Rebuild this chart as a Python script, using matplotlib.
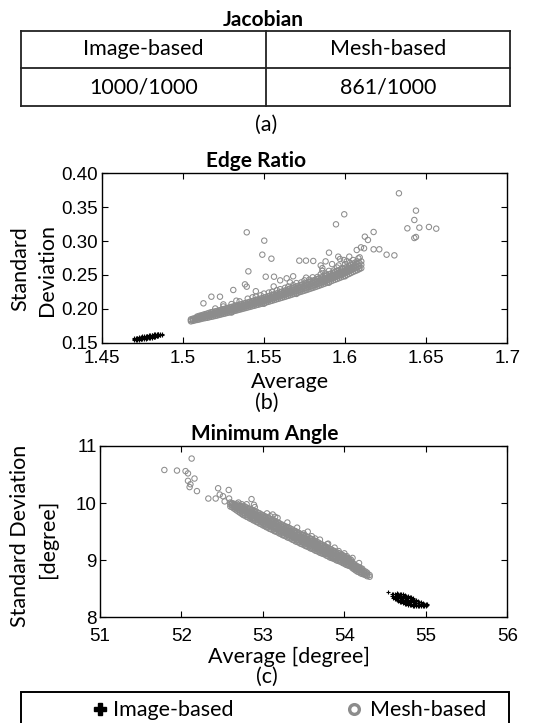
import matplotlib
matplotlib.use("Agg")
import matplotlib.pyplot as plt
from matplotlib.lines import Line2D
from matplotlib.patches import Rectangle

# ---------------- data ----------------
table_title = "Jacobian"
table_header = ["Image-based", "Mesh-based"]
table_values = ["1000/1000", "861/1000"]

# (b) Edge Ratio: image-based cluster, columns of (average, [std values])
img_b_cols = [
    (1.4700, (0.1545, 0.1555, 0.1565)),
    (1.4710, (0.1540, 0.1550, 0.1560, 0.1570)),
    (1.4720, (0.1542, 0.1553, 0.1564, 0.1574)),
    (1.4730, (0.1545, 0.1556, 0.1567, 0.1578)),
    (1.4740, (0.1548, 0.1559, 0.1570, 0.1581)),
    (1.4750, (0.1551, 0.1562, 0.1573, 0.1584, 0.1592)),
    (1.4760, (0.1554, 0.1565, 0.1576, 0.1587, 0.1596)),
    (1.4770, (0.1558, 0.1569, 0.1580, 0.1591, 0.1600)),
    (1.4780, (0.1562, 0.1573, 0.1584, 0.1595, 0.1604)),
    (1.4790, (0.1566, 0.1577, 0.1588, 0.1599, 0.1608)),
    (1.4800, (0.1570, 0.1581, 0.1592, 0.1603, 0.1612)),
    (1.4810, (0.1575, 0.1586, 0.1597, 0.1608, 0.1617)),
    (1.4820, (0.1580, 0.1591, 0.1602, 0.1613, 0.1622)),
    (1.4830, (0.1586, 0.1597, 0.1608, 0.1619, 0.1628)),
    (1.4840, (0.1593, 0.1604, 0.1615, 0.1626)),
    (1.4850, (0.1600, 0.1611, 0.1622, 0.1632)),
    (1.4860, (0.1608, 0.1619, 0.1630)),
    (1.4870, (0.1618, 0.1628)),
]

# (b) Edge Ratio: mesh-based dense band
mesh_b_cols = [
    (1.5050, (0.1815, 0.1832, 0.1845)),
    (1.50625, (0.1822, 0.1840, 0.1855)),
    (1.5075, (0.1830, 0.1848, 0.1862)),
    (1.50875, (0.1836, 0.1854, 0.1870, 0.1885)),
    (1.5100, (0.1842, 0.1860, 0.1878, 0.1895)),
    (1.51125, (0.1850, 0.1868, 0.1886, 0.1903)),
    (1.5125, (0.1858, 0.1876, 0.1894, 0.1912)),
    (1.51375, (0.1863, 0.1882, 0.1901, 0.1921)),
    (1.5150, (0.1868, 0.1888, 0.1908, 0.1930)),
    (1.51625, (0.1875, 0.1896, 0.1916, 0.1940)),
    (1.5175, (0.1882, 0.1904, 0.1925, 0.1950)),
    (1.51875, (0.1888, 0.1911, 0.1933, 0.1956)),
    (1.5200, (0.1895, 0.1918, 0.1940, 0.1962, 0.2005)),
    (1.52125, (0.1902, 0.1925, 0.1948, 0.1970)),
    (1.5225, (0.1910, 0.1932, 0.1956, 0.1978)),
    (1.52375, (0.1918, 0.1940, 0.1964, 0.1986)),
    (1.5250, (0.1925, 0.1948, 0.1972, 0.1995, 0.2035)),
    (1.52625, (0.1932, 0.1956, 0.1980, 0.2004)),
    (1.5275, (0.1940, 0.1964, 0.1988, 0.2012)),
    (1.52875, (0.1948, 0.1972, 0.1996, 0.2020)),
    (1.5300, (0.1955, 0.1980, 0.2004, 0.2028, 0.2070)),
    (1.53125, (0.1964, 0.1988, 0.2012, 0.2036)),
    (1.5325, (0.1972, 0.1996, 0.2020, 0.2045)),
    (1.53375, (0.1980, 0.2004, 0.2028, 0.2054)),
    (1.5350, (0.1988, 0.2012, 0.2036, 0.2062, 0.2110)),
    (1.53625, (0.1996, 0.2020, 0.2044, 0.2070)),
    (1.5375, (0.2004, 0.2028, 0.2052, 0.2078)),
    (1.53875, (0.2012, 0.2036, 0.2060, 0.2086)),
    (1.5400, (0.2020, 0.2044, 0.2068, 0.2094, 0.2150)),
    (1.54125, (0.2028, 0.2052, 0.2077, 0.2103)),
    (1.5425, (0.2036, 0.2060, 0.2086, 0.2112)),
    (1.54375, (0.2044, 0.2069, 0.2095, 0.2121)),
    (1.5450, (0.2052, 0.2078, 0.2104, 0.2130, 0.2180)),
    (1.54625, (0.2060, 0.2086, 0.2112, 0.2139)),
    (1.5475, (0.2068, 0.2094, 0.2120, 0.2148)),
    (1.54875, (0.2076, 0.2102, 0.2129, 0.2157)),
    (1.5500, (0.2084, 0.2110, 0.2138, 0.2166, 0.2225)),
    (1.55125, (0.2093, 0.2119, 0.2147, 0.2175)),
    (1.5525, (0.2102, 0.2128, 0.2156, 0.2184)),
    (1.55375, (0.2111, 0.2138, 0.2166, 0.2194)),
    (1.5550, (0.2120, 0.2148, 0.2176, 0.2204, 0.2250)),
    (1.55625, (0.2129, 0.2157, 0.2186, 0.2214)),
    (1.5575, (0.2138, 0.2166, 0.2196, 0.2224)),
    (1.55875, (0.2147, 0.2176, 0.2206, 0.2235)),
    (1.5600, (0.2156, 0.2186, 0.2216, 0.2246, 0.2290)),
    (1.56125, (0.2165, 0.2195, 0.2226, 0.2256)),
    (1.5625, (0.2174, 0.2204, 0.2236, 0.2266)),
    (1.56375, (0.2183, 0.2214, 0.2246, 0.2277)),
    (1.5650, (0.2192, 0.2224, 0.2256, 0.2288, 0.2330)),
    (1.56625, (0.2202, 0.2234, 0.2266, 0.2298)),
    (1.5675, (0.2212, 0.2244, 0.2276, 0.2308)),
    (1.56875, (0.2221, 0.2253, 0.2286, 0.2319)),
    (1.5700, (0.2230, 0.2262, 0.2296, 0.2330, 0.2380)),
    (1.57125, (0.2240, 0.2272, 0.2306, 0.2340)),
    (1.5725, (0.2250, 0.2282, 0.2316, 0.2350)),
    (1.57375, (0.2259, 0.2292, 0.2326, 0.2361)),
    (1.5750, (0.2268, 0.2302, 0.2336, 0.2372, 0.2420)),
    (1.57625, (0.2278, 0.2312, 0.2346, 0.2382)),
    (1.5775, (0.2288, 0.2322, 0.2356, 0.2392)),
    (1.57875, (0.2298, 0.2332, 0.2367, 0.2403)),
    (1.5800, (0.2308, 0.2342, 0.2378, 0.2414, 0.2465)),
    (1.58125, (0.2318, 0.2353, 0.2389, 0.2425)),
    (1.5825, (0.2328, 0.2364, 0.2400, 0.2436)),
    (1.58375, (0.2339, 0.2375, 0.2411, 0.2448)),
    (1.5850, (0.2350, 0.2386, 0.2422, 0.2460, 0.2510)),
    (1.58625, (0.2361, 0.2397, 0.2434, 0.2472)),
    (1.5875, (0.2372, 0.2408, 0.2446, 0.2484)),
    (1.58875, (0.2383, 0.2420, 0.2458, 0.2496)),
    (1.5900, (0.2394, 0.2432, 0.2470, 0.2508, 0.2560)),
    (1.59125, (0.2406, 0.2444, 0.2482, 0.2520)),
    (1.5925, (0.2418, 0.2456, 0.2494, 0.2532)),
    (1.59375, (0.2429, 0.2467, 0.2506, 0.2544)),
    (1.5950, (0.2440, 0.2478, 0.2518, 0.2556, 0.2610)),
    (1.59625, (0.2452, 0.2490, 0.2530, 0.2568)),
    (1.5975, (0.2464, 0.2502, 0.2542, 0.2580)),
    (1.59875, (0.2476, 0.2515, 0.2554, 0.2593)),
    (1.6000, (0.2488, 0.2528, 0.2566, 0.2606, 0.2660)),
    (1.60125, (0.2502, 0.2542, 0.2581, 0.2620)),
    (1.6025, (0.2515, 0.2555, 0.2595, 0.2635)),
    (1.60375, (0.2530, 0.2570, 0.2610, 0.2650)),
    (1.6050, (0.2545, 0.2585, 0.2625, 0.2665)),
    (1.60625, (0.2558, 0.2600, 0.2643, 0.2683)),
    (1.6075, (0.2570, 0.2615, 0.2660, 0.2700)),
    (1.60875, (0.2585, 0.2632, 0.2680)),
    (1.6100, (0.2600, 0.2650, 0.2700)),
]

# (b) Edge Ratio: mesh-based scattered points
mesh_b_sparse = [
    (1.6332, 0.3705), (1.5995, 0.3395), (1.5944, 0.3247), (1.5394, 0.3129),
    (1.5502, 0.3006), (1.5490, 0.2799), (1.5546, 0.2740), (1.5404, 0.2553),
    (1.6437, 0.3449), (1.6427, 0.3311), (1.6384, 0.3188), (1.6458, 0.3198),
    (1.6517, 0.3208), (1.6562, 0.3183), (1.6427, 0.3045), (1.6437, 0.3060),
    (1.6304, 0.2789), (1.6256, 0.2799), (1.6176, 0.3134), (1.6122, 0.3065),
    (1.6141, 0.3016), (1.6176, 0.2878), (1.6211, 0.2878), (1.6098, 0.2907),
    (1.6117, 0.2893), (1.6072, 0.2868), (1.5718, 0.2711), (1.5759, 0.2711),
    (1.5804, 0.2706), (1.5901, 0.2829), (1.5958, 0.2770), (1.5969, 0.2735),
    (1.5993, 0.2720), (1.6026, 0.2770), (1.6088, 0.2598), (1.6082, 0.2745),
    (1.5383, 0.2361), (1.5394, 0.2327), (1.5311, 0.2278), (1.5229, 0.2179),
    (1.5176, 0.2179), (1.5127, 0.2081), (1.5511, 0.2474), (1.5562, 0.2474),
    (1.5640, 0.2450), (1.5600, 0.2420), (1.5680, 0.2480), (1.5850, 0.2640),
    (1.5880, 0.2700), (1.5920, 0.2660), (1.5860, 0.2560),
    (1.5250, 0.2065), (1.5330, 0.2120), (1.5430, 0.2170), (1.5480, 0.2200),
    (1.5530, 0.2240), (1.5580, 0.2275), (1.5630, 0.2310), (1.5680, 0.2350),
    (1.5730, 0.2390), (1.5780, 0.2430), (1.5830, 0.2470), (1.5880, 0.2520),
    (1.5930, 0.2565), (1.5980, 0.2600), (1.6030, 0.2680), (1.5450, 0.2260),
    (1.5560, 0.2330), (1.5660, 0.2390), (1.5760, 0.2460), (1.5860, 0.2600),
    (1.5960, 0.2640), (1.6010, 0.2700), (1.6050, 0.2720), (1.6090, 0.2760),
    (1.5300, 0.1945), (1.5500, 0.2075), (1.5700, 0.2220), (1.5900, 0.2385),
    (1.6000, 0.2480),
]

# (c) Minimum Angle: image-based cluster
img_c_cols = [
    (54.53, (8.44,)),
    (54.58, (8.37, 8.40)),
    (54.60, (8.34, 8.37, 8.40)),
    (54.62, (8.32, 8.35, 8.38, 8.41)),
    (54.64, (8.30, 8.33, 8.36, 8.39, 8.42)),
    (54.66, (8.28, 8.31, 8.34, 8.37, 8.40)),
    (54.68, (8.27, 8.30, 8.33, 8.36, 8.39, 8.41)),
    (54.70, (8.26, 8.29, 8.32, 8.35, 8.38, 8.40)),
    (54.72, (8.25, 8.28, 8.31, 8.34, 8.37, 8.40)),
    (54.74, (8.24, 8.27, 8.30, 8.33, 8.36, 8.39)),
    (54.76, (8.23, 8.26, 8.29, 8.32, 8.35, 8.38)),
    (54.78, (8.22, 8.25, 8.28, 8.31, 8.34, 8.37)),
    (54.80, (8.21, 8.24, 8.27, 8.30, 8.33, 8.36)),
    (54.82, (8.21, 8.24, 8.27, 8.30, 8.33, 8.35)),
    (54.84, (8.20, 8.23, 8.26, 8.29, 8.32, 8.34)),
    (54.86, (8.20, 8.23, 8.26, 8.29, 8.31)),
    (54.88, (8.19, 8.22, 8.25, 8.28, 8.30)),
    (54.90, (8.19, 8.22, 8.25, 8.28)),
    (54.92, (8.19, 8.21, 8.24, 8.27)),
    (54.94, (8.19, 8.21, 8.24, 8.26)),
    (54.96, (8.19, 8.21, 8.23, 8.25)),
    (54.98, (8.20, 8.22, 8.24)),
    (55.00, (8.20, 8.22, 8.24)),
    (55.02, (8.21, 8.23)),
]

# (c) Minimum Angle: mesh-based dense band
mesh_c_cols = [
    (52.60, (9.94, 9.98, 10.01)),
    (52.62, (9.93, 9.96, 10.00)),
    (52.64, (9.91, 9.95, 9.99)),
    (52.66, (9.89, 9.93, 9.97)),
    (52.68, (9.87, 9.91, 9.95, 9.99)),
    (52.70, (9.85, 9.89, 9.93, 9.97)),
    (52.72, (9.83, 9.87, 9.91, 9.95)),
    (52.74, (9.81, 9.85, 9.89, 9.93)),
    (52.76, (9.79, 9.83, 9.87, 9.91, 9.95)),
    (52.78, (9.78, 9.82, 9.86, 9.90, 9.94)),
    (52.80, (9.76, 9.80, 9.84, 9.88, 9.92)),
    (52.82, (9.75, 9.79, 9.83, 9.87, 9.91)),
    (52.84, (9.73, 9.77, 9.81, 9.85, 9.90)),
    (52.86, (9.72, 9.76, 9.80, 9.84, 9.88)),
    (52.88, (9.70, 9.74, 9.78, 9.83, 9.87)),
    (52.90, (9.69, 9.73, 9.77, 9.81, 9.86)),
    (52.92, (9.67, 9.72, 9.76, 9.80, 9.85)),
    (52.94, (9.66, 9.70, 9.74, 9.79, 9.83)),
    (52.96, (9.64, 9.69, 9.73, 9.78, 9.82)),
    (52.98, (9.63, 9.67, 9.72, 9.76, 9.80)),
    (53.00, (9.61, 9.66, 9.70, 9.75, 9.79)),
    (53.02, (9.60, 9.64, 9.69, 9.73, 9.77)),
    (53.04, (9.58, 9.63, 9.67, 9.72, 9.76)),
    (53.06, (9.57, 9.61, 9.66, 9.70, 9.74)),
    (53.08, (9.55, 9.60, 9.64, 9.69, 9.73)),
    (53.10, (9.54, 9.59, 9.63, 9.67, 9.72)),
    (53.12, (9.53, 9.58, 9.62, 9.66, 9.71)),
    (53.14, (9.51, 9.56, 9.60, 9.65, 9.69)),
    (53.16, (9.50, 9.55, 9.59, 9.64, 9.68)),
    (53.18, (9.49, 9.53, 9.57, 9.62, 9.66)),
    (53.20, (9.47, 9.52, 9.56, 9.61, 9.65)),
    (53.22, (9.46, 9.50, 9.55, 9.59, 9.63)),
    (53.24, (9.44, 9.49, 9.53, 9.58, 9.62)),
    (53.26, (9.43, 9.48, 9.52, 9.56, 9.60)),
    (53.28, (9.42, 9.46, 9.50, 9.55, 9.59)),
    (53.30, (9.40, 9.45, 9.49, 9.53, 9.58)),
    (53.32, (9.39, 9.44, 9.48, 9.52, 9.57)),
    (53.34, (9.38, 9.42, 9.46, 9.51, 9.55)),
    (53.36, (9.36, 9.41, 9.45, 9.50, 9.54)),
    (53.38, (9.35, 9.39, 9.44, 9.48, 9.52)),
    (53.40, (9.33, 9.38, 9.42, 9.47, 9.51)),
    (53.42, (9.32, 9.36, 9.41, 9.45, 9.49)),
    (53.44, (9.31, 9.35, 9.39, 9.44, 9.48)),
    (53.46, (9.29, 9.34, 9.38, 9.42, 9.46)),
    (53.48, (9.28, 9.32, 9.36, 9.41, 9.45)),
    (53.50, (9.27, 9.31, 9.35, 9.39, 9.44)),
    (53.52, (9.25, 9.30, 9.34, 9.38, 9.43)),
    (53.54, (9.24, 9.28, 9.32, 9.37, 9.41)),
    (53.56, (9.23, 9.27, 9.31, 9.35, 9.40)),
    (53.58, (9.21, 9.26, 9.30, 9.34, 9.38)),
    (53.60, (9.20, 9.24, 9.28, 9.33, 9.37)),
    (53.62, (9.19, 9.23, 9.27, 9.31, 9.35)),
    (53.64, (9.17, 9.21, 9.25, 9.30, 9.34)),
    (53.66, (9.16, 9.20, 9.24, 9.28, 9.32)),
    (53.68, (9.15, 9.19, 9.22, 9.27, 9.31)),
    (53.70, (9.13, 9.17, 9.21, 9.25, 9.29)),
    (53.72, (9.12, 9.16, 9.20, 9.24, 9.28)),
    (53.74, (9.11, 9.15, 9.18, 9.22, 9.26)),
    (53.76, (9.10, 9.13, 9.17, 9.21, 9.25)),
    (53.78, (9.08, 9.12, 9.16, 9.19, 9.23)),
    (53.80, (9.07, 9.11, 9.14, 9.18, 9.22)),
    (53.82, (9.05, 9.09, 9.13, 9.16, 9.20)),
    (53.84, (9.04, 9.08, 9.11, 9.15, 9.19)),
    (53.86, (9.03, 9.06, 9.10, 9.14, 9.17)),
    (53.88, (9.02, 9.05, 9.08, 9.12, 9.16)),
    (53.90, (9.00, 9.04, 9.07, 9.11, 9.14)),
    (53.92, (8.99, 9.03, 9.06, 9.10, 9.13)),
    (53.94, (8.98, 9.01, 9.05, 9.08, 9.12)),
    (53.96, (8.97, 9.00, 9.03, 9.07, 9.10)),
    (53.98, (8.95, 8.99, 9.02, 9.05, 9.09)),
    (54.00, (8.94, 8.97, 9.00, 9.04, 9.07)),
    (54.02, (8.92, 8.96, 8.99, 9.02, 9.05)),
    (54.04, (8.91, 8.94, 8.97, 9.01, 9.04)),
    (54.06, (8.90, 8.93, 8.96, 8.99, 9.02)),
    (54.08, (8.89, 8.92, 8.94, 8.98, 9.01)),
    (54.10, (8.86, 8.89, 8.92, 8.96)),
    (54.12, (8.84, 8.87, 8.90, 8.93)),
    (54.14, (8.82, 8.85, 8.88, 8.91)),
    (54.16, (8.80, 8.83, 8.86, 8.89)),
    (54.18, (8.79, 8.82, 8.85, 8.88)),
    (54.20, (8.77, 8.80, 8.83, 8.86)),
    (54.22, (8.76, 8.79, 8.82, 8.85)),
    (54.24, (8.75, 8.78, 8.81)),
    (54.26, (8.74, 8.77, 8.80)),
    (54.28, (8.72, 8.75, 8.78)),
    (54.31, (8.71, 8.74)),
]

# (c) Minimum Angle: mesh-based scattered points
mesh_c_sparse = [
    (51.79, 10.58), (51.945, 10.57), (52.05, 10.56), (52.08, 10.52),
    (52.125, 10.78), (52.16, 10.43), (52.08, 10.39), (52.11, 10.33),
    (52.10, 10.28), (52.19, 10.21), (52.33, 10.08), (52.42, 10.08),
    (52.45, 10.26), (52.51, 10.12), (52.47, 10.15), (52.58, 10.23),
    (52.585, 10.08), (52.53, 10.03), (52.86, 10.07), (52.89, 9.97),
    (53.09, 9.77), (53.15, 9.76), (53.12, 9.80), (53.50, 9.47),
    (53.64, 9.38), (53.79, 9.28), (53.93, 9.16), (54.03, 9.07),
    (52.62, 9.99), (52.70, 10.01), (52.74, 9.98), (52.80, 9.98),
    (52.90, 9.93), (53.05, 9.82), (53.18, 9.74), (53.30, 9.66),
    (53.42, 9.57), (53.55, 9.50), (53.60, 9.42), (53.70, 9.36),
    (53.80, 9.29), (53.88, 9.22), (54.00, 9.12), (54.10, 9.04),
    (54.18, 8.95),
]

b_xticks = [1.45, 1.5, 1.55, 1.6, 1.65, 1.7]
b_xticklabels = ["1.45", "1.5", "1.55", "1.6", "1.65", "1.7"]
b_yticks = [0.15, 0.20, 0.25, 0.30, 0.35, 0.40]
b_yticklabels = ["0.15", "0.20", "0.25", "0.30", "0.35", "0.40"]
c_xticks = [51, 52, 53, 54, 55, 56]
c_yticks = [8, 9, 10, 11]


def flatten(cols):
    xs, ys = [], []
    for x, yl in cols:
        for y in yl:
            xs.append(x)
            ys.append(y)
    return xs, ys


img_b_avg, img_b_std = flatten(img_b_cols)
mesh_b_avg, mesh_b_std = flatten(mesh_b_cols)
mesh_b_avg += [p[0] for p in mesh_b_sparse]
mesh_b_std += [p[1] for p in mesh_b_sparse]
img_c_avg, img_c_std = flatten(img_c_cols)
mesh_c_avg, mesh_c_std = flatten(mesh_c_cols)
mesh_c_avg += [p[0] for p in mesh_c_sparse]
mesh_c_std += [p[1] for p in mesh_c_sparse]

# ---------------- figure ----------------
W, H = 550, 723
fig = plt.figure(figsize=(5.5, 7.23), dpi=100)
fig.patch.set_facecolor("white")

TXT = ["Lato", "DejaVu Sans"]
TICK = ["Liberation Sans", "DejaVu Sans"]
GRAY = "#8c8c8c"
LBL = 15.5
TCK = 13.5


def fx(px):
    return px / W


def fy(py):
    return 1 - py / H


def ftext(px, py, s, **kw):
    kw.setdefault("family", TXT)
    kw.setdefault("fontsize", LBL)
    kw.setdefault("ha", "center")
    kw.setdefault("va", "center")
    fig.text(fx(px), fy(py), s, **kw)


def fline(x0, y0, x1, y1, lw=1.3, color="#222222"):
    fig.add_artist(Line2D([fx(x0), fx(x1)], [fy(y0), fy(y1)],
                          transform=fig.transFigure, lw=lw, color=color,
                          solid_capstyle="projecting"))


# ---- (a) table ----
ftext(263, 20, table_title, fontweight="bold", fontsize=15)
tl, tm, tr = 21, 266, 510
ty0, ty1, ty2 = 31, 68, 106
for yy in (ty0, ty1, ty2):
    fline(tl, yy, tr, yy)
for xx in (tl, tm, tr):
    fline(xx, ty0, xx, ty2)
ftext((tl + tm) / 2, 49, table_header[0])
ftext((tm + tr) / 2, 49, table_header[1])
ftext((tl + tm) / 2, 87, table_values[0])
ftext((tm + tr) / 2, 87, table_values[1])
ftext(266, 125, "(a)")


def style(ax, xpad):
    ax.tick_params(direction="in", top=True, right=True, length=4,
                   width=0.8, labelsize=TCK, colors="black")
    ax.tick_params(axis="x", pad=xpad)
    ax.tick_params(axis="y", pad=2.5)
    for sp in ax.spines.values():
        sp.set_linewidth(1.0)
        sp.set_color("black")
    for lab in ax.get_xticklabels() + ax.get_yticklabels():
        lab.set_family(TICK)


MS = 15
MLW = 0.75

# ---- (b) Edge Ratio ----
ax_b = fig.add_axes([fx(101.7), fy(342.7), (507.3 - 101.7) / W, (342.7 - 173.3) / H])
ax_b.scatter(mesh_b_avg, mesh_b_std, s=MS, marker="o", facecolors="none",
             edgecolors=GRAY, linewidths=MLW, zorder=2)
ax_b.scatter(img_b_avg, img_b_std, s=10, marker="+", c="black",
             linewidths=0.8, zorder=3)
ax_b.set_xlim(1.45, 1.7)
ax_b.set_ylim(0.15, 0.40)
ax_b.set_xticks(b_xticks, b_xticklabels)
ax_b.set_yticks(b_yticks, b_yticklabels)
style(ax_b, 5.5)
ftext(256, 161, "Edge Ratio", fontweight="bold", fontsize=15)
ftext(20, 269, "Standard", rotation=90)
ftext(47, 270, "Deviation", rotation=90)
ftext(290, 382, "Average")
ftext(267, 403, "(b)")

# ---- (c) Minimum Angle ----
ax_c = fig.add_axes([fx(100), fy(617.3), (507.3 - 100) / W, (617.3 - 446) / H])
ax_c.scatter(mesh_c_avg, mesh_c_std, s=MS, marker="o", facecolors="none",
             edgecolors=GRAY, linewidths=MLW, zorder=2)
ax_c.scatter(img_c_avg, img_c_std, s=10, marker="+", c="black",
             linewidths=0.8, zorder=3)
ax_c.set_xlim(51, 56)
ax_c.set_ylim(8, 11)
ax_c.set_xticks(c_xticks, [str(v) for v in c_xticks])
ax_c.set_yticks(c_yticks, [str(v) for v in c_yticks])
style(ax_c, 7.5)
ftext(265, 434, "Minimum Angle", fontweight="bold", fontsize=15)
ftext(20, 536, "Standard Deviation", rotation=90)
ftext(48, 539, "[degree]", rotation=90)
ftext(289, 657, "Average [degree]")
ftext(267, 677, "(c)")

# ---- legend box ----
fig.add_artist(Rectangle((fx(21), fy(735)), fx(509) - fx(21), fy(692.3) - fy(735),
                         transform=fig.transFigure, fill=False,
                         edgecolor="black", lw=1.4))
fig.add_artist(Line2D([fx(100)], [fy(709)], transform=fig.transFigure,
                      marker="P", markersize=8, color="black", linestyle="none"))
ftext(113, 710, table_header[0], ha="left")
fig.add_artist(Line2D([fx(354)], [fy(709)], transform=fig.transFigure,
                      marker="o", markersize=7, markerfacecolor="none",
                      markeredgecolor=GRAY, markeredgewidth=2.4, linestyle="none"))
ftext(370, 710, table_header[1], ha="left")

fig.savefig("out.png", dpi=100, facecolor="white")
